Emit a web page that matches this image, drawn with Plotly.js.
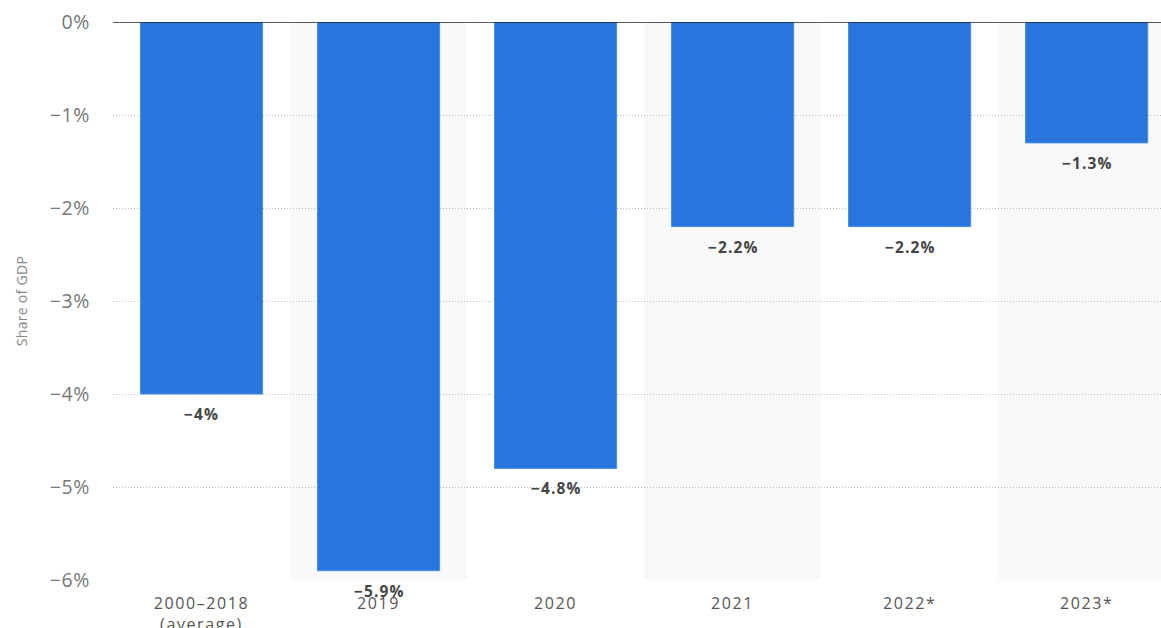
<!DOCTYPE html>
<html>
<head>
<meta charset="utf-8">
<script src="https://cdn.plot.ly/plotly-3.0.1.min.js"></script>
<style>
html,body{margin:0;padding:0;background:#fff;}
#chart{width:1161px;height:628px;}
.xtick text{letter-spacing:1.6px;}
.annotation-text{letter-spacing:1.1px;}
.ytick text{letter-spacing:0.6px;}
.ytitle{letter-spacing:0.3px;}
</style>
</head>
<body>
<div id="chart"></div>
<script>
var categories = ['2000–2018<br>(average)', '2019', '2020', '2021', '2022*', '2023*'];
var values = [-4, -5.9, -4.8, -2.2, -2.2, -1.3];
var yTickValues = [0, -1, -2, -3, -4, -5, -6];

function pct(v) { return (v < 0 ? '−' : '') + Math.abs(v) + '%'; }
var labels = values.map(pct);
var yTickText = yTickValues.map(pct);

var trace = {
  type: 'bar',
  x: categories,
  y: values,
  marker: { color: '#2876dd', line: { color: '#4a8ce6', width: 1 } },
  hoverinfo: 'none'
};

var shapes = [];
categories.forEach(function (c, i) {
  if (i % 2 === 1) {
    shapes.push({ type: 'rect', xref: 'x', yref: 'y', x0: i - 0.5, x1: i + 0.5, y0: 0, y1: -6,
      fillcolor: '#f9f9f9', line: { width: 0 }, layer: 'below' });
  }
});
shapes.push({ type: 'line', xref: 'paper', yref: 'y', x0: 0, x1: 1, y0: 0, y1: 0,
  line: { color: '#222', width: 1.5 }, layer: 'above' });

var annotations = categories.map(function (c, i) {
  return { x: i, y: values[i], xref: 'x', yref: 'y', text: labels[i], showarrow: false,
    yanchor: 'top', yshift: -7,
    font: { family: 'Open Sans, sans-serif', size: 15.5, color: '#454545', weight: 'bold' } };
});

var layout = {
  width: 1161, height: 628,
  margin: { l: 113, r: 0, t: 22, b: 48 },
  paper_bgcolor: '#fff', plot_bgcolor: '#fff',
  bargap: 0.31,
  showlegend: false,
  xaxis: {
    type: 'category',
    range: [-0.5, 5.42],
    showgrid: false, zeroline: false, showline: false,
    ticks: '',
    tickfont: { family: 'Open Sans, sans-serif', size: 16, color: '#555' },
    ticklabelstandoff: 12
  },
  yaxis: {
    range: [-6, 0],
    tickmode: 'array',
    tickvals: yTickValues,
    ticktext: yTickText,
    showgrid: true, gridcolor: '#bbbbbb', griddash: '1px,2px', gridwidth: 1,
    zeroline: false, showline: false,
    ticks: '',
    ticklabelstandoff: 22,
    tickfont: { family: 'Open Sans, sans-serif', size: 19.5, color: '#777' },
    title: { text: 'Share of GDP', font: { family: 'Open Sans, sans-serif', size: 14, color: '#888' }, standoff: 18 }
  },
  shapes: shapes,
  annotations: annotations
};

Plotly.newPlot('chart', [trace], layout, { displayModeBar: false, staticPlot: true });
</script>
</body>
</html>
